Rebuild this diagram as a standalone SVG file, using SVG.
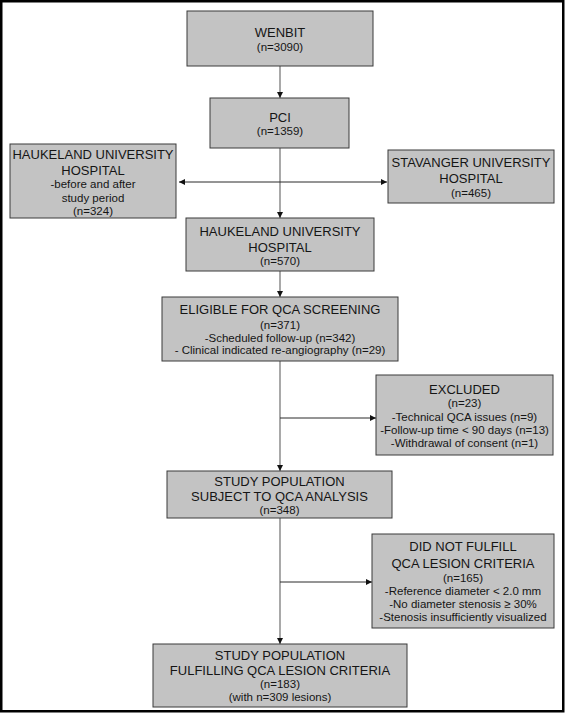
<svg xmlns="http://www.w3.org/2000/svg" width="566" height="718" viewBox="0 0 566 718">
<defs>
<style>
.box{fill:#c3c3c3;stroke:#3a3a3a;stroke-width:1}
.h{font-family:"Liberation Sans",Arial,sans-serif;font-size:13px;fill:#151515;text-anchor:middle}
.s{font-family:"Liberation Sans",Arial,sans-serif;font-size:11.5px;fill:#151515;text-anchor:middle}
.v{stroke:#7a7a7a;stroke-width:1.3;fill:none}
.hz{stroke:#2a2a2a;stroke-width:1;fill:none}
</style>
<marker id="arr" markerUnits="userSpaceOnUse" markerWidth="6" markerHeight="6" refX="6" refY="3" orient="auto-start-reverse">
<path d="M0,0 L6,3 L0,6 z" fill="#111"/>
</marker>
</defs>
<rect x="0" y="0" width="566" height="718" fill="#fff"/>
<rect x="1.25" y="1.25" width="562" height="710" fill="none" stroke="#000" stroke-width="2.5"/>

<g id="connectors">
<line class="v" x1="280" y1="66" x2="280" y2="98" marker-end="url(#arr)"/>
<line class="v" x1="280" y1="148" x2="280" y2="218" marker-end="url(#arr)"/>
<line class="hz" x1="179" y1="182" x2="387" y2="182" marker-start="url(#arr)" marker-end="url(#arr)"/>
<line class="v" x1="280" y1="271" x2="280" y2="297" marker-end="url(#arr)"/>
<line class="v" x1="280" y1="361" x2="280" y2="471" marker-end="url(#arr)"/>
<line class="hz" x1="280" y1="418" x2="376" y2="418" marker-end="url(#arr)"/>
<line class="v" x1="280" y1="518" x2="280" y2="644" marker-end="url(#arr)"/>
<line class="hz" x1="280" y1="582" x2="372" y2="582" marker-end="url(#arr)"/>
</g>

<g id="wenbit">
<rect class="box" x="187" y="11" width="186" height="55"/>
<text class="h" x="280" y="36.5">WENBIT</text>
<text class="s" x="280" y="50.5">(n=3090)</text>
</g>

<g id="pci">
<rect class="box" x="210" y="98" width="139" height="50"/>
<text class="h" x="280" y="121.5">PCI</text>
<text class="s" x="280" y="134.5">(n=1359)</text>
</g>

<g id="haukeland-other">
<rect class="box" x="10" y="144" width="166" height="74"/>
<text class="h" x="93" y="158.5">HAUKELAND UNIVERSITY</text>
<text class="h" x="93" y="174.5">HOSPITAL</text>
<text class="s" x="93" y="188">-before and after</text>
<text class="s" x="93" y="201.5">study period</text>
<text class="s" x="93" y="214.5">(n=324)</text>
</g>

<g id="stavanger">
<rect class="box" x="388" y="150" width="166" height="53"/>
<text class="h" x="471" y="167">STAVANGER UNIVERSITY</text>
<text class="h" x="471" y="182.5">HOSPITAL</text>
<text class="s" x="471" y="196.5">(n=465)</text>
</g>

<g id="haukeland">
<rect class="box" x="186" y="218" width="188" height="53"/>
<text class="h" x="280" y="236">HAUKELAND UNIVERSITY</text>
<text class="h" x="280" y="251.5">HOSPITAL</text>
<text class="s" x="280" y="265">(n=570)</text>
</g>

<g id="eligible">
<rect class="box" x="162" y="297" width="236" height="64"/>
<text class="h" x="280" y="313.5">ELIGIBLE FOR QCA SCREENING</text>
<text class="s" x="280" y="328.5">(n=371)</text>
<text class="s" x="280" y="341.5">-Scheduled follow-up (n=342)</text>
<text class="s" x="280" y="354">- Clinical indicated re-angiography (n=29)</text>
</g>

<g id="excluded">
<rect class="box" x="376" y="375" width="177" height="80"/>
<text class="h" x="464.5" y="393.5">EXCLUDED</text>
<text class="s" x="464.5" y="406.5">(n=23)</text>
<text class="s" x="464.5" y="420.5">-Technical QCA issues (n=9)</text>
<text class="s" x="464.5" y="433.5">-Follow-up time &lt; 90 days (n=13)</text>
<text class="s" x="464.5" y="446.5">-Withdrawal of consent (n=1)</text>
</g>

<g id="study-population">
<rect class="box" x="167" y="471" width="225" height="47"/>
<text class="h" x="279.5" y="485.5">STUDY POPULATION</text>
<text class="h" x="279.5" y="500.5">SUBJECT TO QCA ANALYSIS</text>
<text class="s" x="279.5" y="513.5">(n=348)</text>
</g>

<g id="not-fulfill">
<rect class="box" x="372" y="534" width="182" height="94"/>
<text class="h" x="463" y="551">DID NOT FULFILL</text>
<text class="h" x="463" y="567.5">QCA LESION CRITERIA</text>
<text class="s" x="463" y="581.5">(n=165)</text>
<text class="s" x="463" y="595">-Reference diameter &lt; 2.0 mm</text>
<text class="s" x="463" y="607.5">-No diameter stenosis ≥ 30%</text>
<text class="s" x="463" y="620.5">-Stenosis insufficiently visualized</text>
</g>

<g id="final">
<rect class="box" x="153" y="644" width="254" height="63"/>
<text class="h" x="280" y="659.5">STUDY POPULATION</text>
<text class="h" x="280" y="674.5">FULFILLING QCA LESION CRITERIA</text>
<text class="s" x="280" y="688">(n=183)</text>
<text class="s" x="280" y="700.5">(with n=309 lesions)</text>
</g>
</svg>
